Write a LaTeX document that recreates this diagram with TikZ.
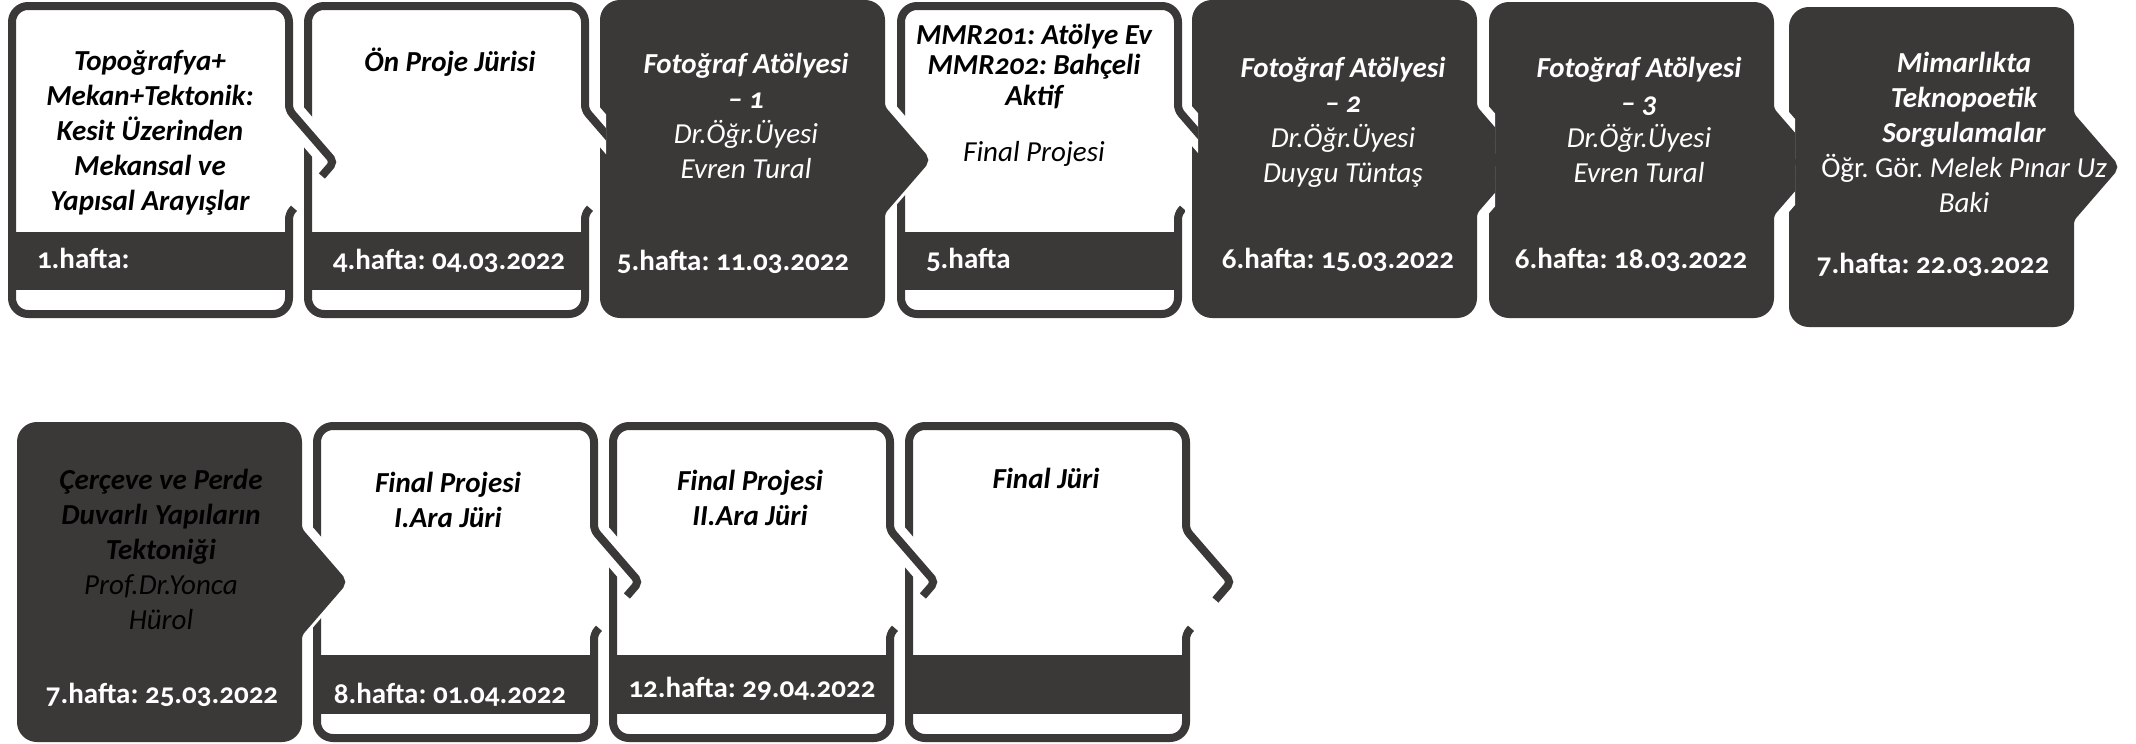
\documentclass[tikz,border=0pt]{standalone}
\usepackage{fontspec}
\setmainfont{Carlito}[Numbers=OldStyle]
\frenchspacing
\definecolor{dk}{RGB}{59,57,55}
\newcommand\txbi[1]{{\bfseries\itshape #1}}
\newcommand\txit[1]{{\mdseries\itshape #1}}
\newcommand\txup[1]{{\mdseries\upshape #1}}
% closed outline (stroke centre line); #1=L #2=T #3=R #4=B outer edges in px
\newcommand\shapeclosed[4]{({#1+4},{#2+64}) [rounded corners=8pt] -- ({#1+4},{#2+4}) -- ({#3-4},{#2+4}) -- ({#3-4},{#2+70}) [rounded corners=2.5pt] -- ({#3-4},{#2+108}) -- ({#3+41},{#2+160}) -- ({#3-4},{#2+212}) -- ({#3-4},{#2+250}) [rounded corners=8pt] -- ({#3-4},{#4-4}) -- ({#1+4},{#4-4}) -- cycle}
% open outline with the built-in cut on the lower side of the tab
\newcommand\shapeopen[4]{({#3+25.4},{#2+178}) [rounded corners=2.5pt] -- ({#3+41},{#2+160}) -- ({#3-4},{#2+108}) -- ({#3-4},{#2+70}) [rounded corners=8pt] -- ({#3-4},{#2+4}) -- ({#1+4},{#2+4}) -- ({#1+4},{#4-4}) -- ({#3-4},{#4-4}) -- ({#3-4},{#2+250}) [rounded corners=2.5pt] -- ({#3-4},{#2+212}) -- ({#3+1},{#2+206.3})}
% white box: L T R B bandtop bandbottom
\newcommand\wbox[6]{%
  \path[draw=white, line width=11pt] \shapeclosed{#1}{#2}{#3}{#4};
  \path[fill=white] \shapeclosed{#1}{#2}{#3}{#4};
  \fill[dk] ({#1+8},{#5}) rectangle ({#3-4},{#6});
  \draw[dk, line width=4pt] \shapeopen{#1}{#2}{#3}{#4};}
% dark box
\newcommand\dbox[4]{%
  \path[draw=white, line width=11pt] \shapeclosed{#1}{#2}{#3}{#4};
  \path[fill=dk, draw=dk, line width=4pt] \shapeclosed{#1}{#2}{#3}{#4};}
% junctions: #1 = R of previous, #2 = T of previous, #3 = L of next
\newcommand\jww[3]{%
  \begin{scope}
    \clip ({#3-8},{#2+80}) rectangle ({#1+60},{#2+200});
    \draw[white, line width=13pt] ({#1-4},{#2+108}) -- ({#1+41},{#2+160});
    \draw[dk, line width=4pt, rounded corners=2.5pt] ({#1-4},{#2+108}) -- ({#1+41},{#2+160}) -- ({#1+28.9},{#2+174});
  \end{scope}}
\newcommand\jwd[3]{%
  \begin{scope}
    \clip ({#3-8},{#2+80}) rectangle ({#3+6},{#2+200});
    \draw[white, line width=13pt] ({#1-4},{#2+108}) -- ({#1+41},{#2+160});
    \draw[dk, line width=4pt] ({#1-4},{#2+108}) -- ({#1+41},{#2+160});
  \end{scope}}
\newcommand\jdw[3]{%
  \begin{scope}
    \clip ({#3-8},{#2+80}) rectangle ({#1+60},{#2+240});
    \draw[white, line width=13pt] ({#1-4},{#2+108}) -- ({#1+41},{#2+160});
    \draw[white, line width=7pt] ({#1+41},{#2+160}) -- ({#1-4},{#2+212});
    \path[fill=dk, draw=dk, line width=4pt, rounded corners=2.5pt] ({#1-4},{#2+108}) -- ({#1+41},{#2+160}) -- ({#1-4},{#2+212}) -- cycle;
  \end{scope}}
\newcommand\jdd[3]{%
  \begin{scope}
    \clip ({#3-8},{#2+80}) rectangle ({#3+6},{#2+240});
    \draw[white, line width=13pt] ({#1-4},{#2+108}) -- ({#1+41},{#2+160});
    \draw[white, line width=13pt] ({#1+41},{#2+160}) -- ({#1-4},{#2+212});
    \path[fill=dk, draw=dk, line width=4pt, rounded corners=2.5pt] ({#1-4},{#2+108}) -- ({#1+41},{#2+160}) -- ({#1-4},{#2+212}) -- cycle;
  \end{scope}}
\begin{document}
\begin{tikzpicture}[x=0.5pt, y=-0.5pt,
  every node/.style={inner sep=0pt, outer sep=0pt},
  blk/.style={align=center, anchor=north, font=\fontsize{14.5}{17.5}\selectfont},
  blkt/.style={align=center, anchor=north, font=\fontsize{14.5}{15.25}\selectfont},
  dt/.style={anchor=base, font=\fontsize{14.5}{17.5}\selectfont\bfseries, text=white},
  dtw/.style={anchor=base west, font=\fontsize{14.5}{17.5}\selectfont\bfseries, text=white}]
\useasboundingbox (0,0) rectangle (2136,744);
\fill[white] (0,0) rectangle (2136,744);
% ---------- row 1 ----------
\wbox{8}{2}{293}{318}{232}{290}
\wbox{304}{2}{589}{318}{232}{290}
\jww{293}{2}{304}
\dbox{600}{0}{885}{318}
\jwd{589}{2}{600}
\wbox{897}{2}{1182}{318}{232}{290}
\jdw{885}{0}{897}
\dbox{1192}{0}{1477}{318}
\jwd{1182}{2}{1192}
\dbox{1489}{2}{1774}{318}
\jdd{1477}{0}{1489}
\dbox{1789}{7}{2074}{327}
\jdd{1774}{2}{1789}
% ---------- row 2 ----------
\dbox{17}{422}{302}{742}
\wbox{313}{422}{598}{742}{655}{714}
\jdw{302}{422}{313}
\wbox{609}{422}{894}{742}{655}{714}
\jww{598}{422}{609}
\wbox{905}{422}{1190}{742}{655}{714}
\jww{894}{422}{905}
% ---------- texts ----------
\node[blk, text=black] (t1) at (150,44) {\rule{0pt}{13pt}\txbi{Topoğrafya+}\\\txbi{Mekan+Tektonik:}\\\txbi{Kesit Üzerinden}\\\txbi{Mekansal ve}\\\txbi{Yapısal Arayışlar}};
\node[dtw] (d1) at (37,268) {1.hafta:};
\node[blk, text=black] (t2) at (450,45) {\rule{0pt}{13pt}\txbi{Ön Proje Jürisi}};
\node[dt] (d2) at (449,269) {4.hafta: 04.03.2022};
\node[blk, text=white] (t3) at (746,47) {\rule{0pt}{13pt}\txbi{Fotoğraf Atölyesi}\\\txbi{– 1}\\\txit{Dr.Öğr.Üyesi}\\\txit{Evren Tural}};
\node[dt] (d3) at (733,270) {5.hafta: 11.03.2022};
\node[blkt, text=black] (t4) at (1034,18) {\rule{0pt}{13pt}\txbi{MMR201: Atölye Ev}\\\txbi{MMR202: Bahçeli}\\\txbi{Aktif}};
\node[anchor=base, font=\fontsize{14.5}{17.5}\selectfont\itshape, text=black] (t4b) at (1034,161) {Final Projesi};
\node[dtw] (d4) at (926,268) {5.hafta};
\node[blk, text=white] (t5) at (1343,51) {\rule{0pt}{13pt}\txbi{Fotoğraf Atölyesi}\\\txbi{– 2}\\\txit{Dr.Öğr.Üyesi}\\\txit{Duygu Tüntaş}};
\node[dt] (d5) at (1338,268) {6.hafta: 15.03.2022};
\node[blk, text=white] (t6) at (1639,51) {\rule{0pt}{13pt}\txbi{Fotoğraf Atölyesi}\\\txbi{– 3}\\\txit{Dr.Öğr.Üyesi}\\\txit{Evren Tural}};
\node[dt] (d6) at (1631,268) {6.hafta: 18.03.2022};
\node[blk, text=white] (t7) at (1964,46) {\rule{0pt}{13pt}\txbi{Mimarlıkta}\\\txbi{Teknopoetik}\\\txbi{Sorgulamalar}\\\txup{Öğr. Gör.} \txit{Melek Pınar Uz}\\\txit{Baki}};
\node[dt] (d7) at (1933,273) {7.hafta: 22.03.2022};
\node[blk, text=black] (t8) at (161,463) {\rule{0pt}{13pt}\txbi{Çerçeve ve Perde}\\\txbi{Duvarlı Yapıların}\\\txbi{Tektoniği}\\\txit{Prof.Dr.Yonca}\\\txit{Hürol}};
\node[dt] (d8) at (162,703) {7.hafta: 25.03.2022};
\node[blk, text=black] (t9) at (448,466) {\rule{0pt}{13pt}\txbi{Final Projesi}\\\txbi{I.Ara Jüri}};
\node[dt] (d9) at (450,703) {8.hafta: 01.04.2022};
\node[blk, text=black] (t10) at (750,464) {\rule{0pt}{13pt}\txbi{Final Projesi}\\\txbi{II.Ara Jüri}};
\node[dt] (d10) at (752,697) {12.hafta: 29.04.2022};
\node[blk, text=black] (t11) at (1046,462) {\rule{0pt}{13pt}\txbi{Final Jüri}};
\end{tikzpicture}
\end{document}
